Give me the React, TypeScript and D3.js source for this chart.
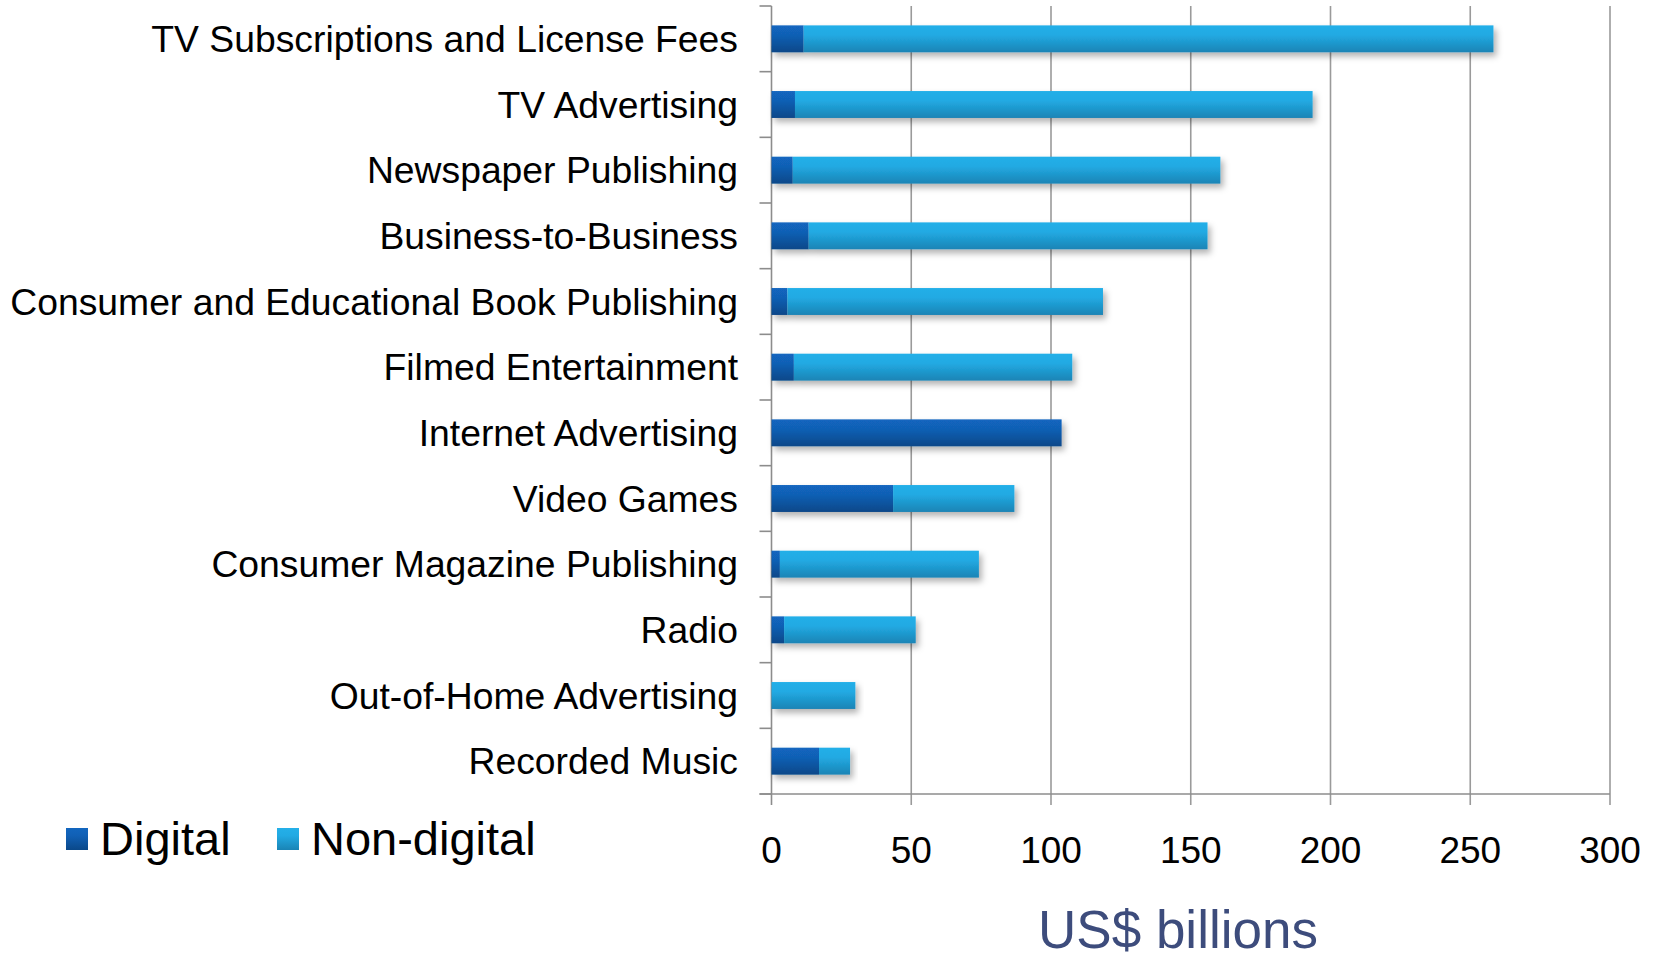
import React, { useRef, useEffect } from "react";
import * as d3 from "d3";

const categories = [
  "TV Subscriptions and License Fees",
  "TV Advertising",
  "Newspaper Publishing",
  "Business-to-Business",
  "Consumer and Educational Book Publishing",
  "Filmed Entertainment",
  "Internet Advertising",
  "Video Games",
  "Consumer Magazine Publishing",
  "Radio",
  "Out-of-Home Advertising",
  "Recorded Music",
];
const digital = [11.5, 8.4, 7.6, 13.3, 5.7, 8, 103.8, 43.5, 3, 4.5, 0, 17];
const nonDigital = [246.8, 185.2, 153, 142.7, 112.9, 99.6, 0, 43.4, 71.2, 47.1, 30, 11.1];
const xTicks = [0, 50, 100, 150, 200, 250, 300];
const seriesNames = ["Digital", "Non-digital"];

const FONT = "'Liberation Sans', Arial, sans-serif";

const App: React.FC = () => {
  const ref = useRef<SVGSVGElement | null>(null);

  useEffect(() => {
    if (!ref.current) return;
    const svg = d3.select(ref.current);
    svg.selectAll("*").remove();

    const width = 1661;
    const height = 960;
    const left = 771.5;
    const right = 1610;
    const top = 6;
    const bottom = 794;

    const defs = svg.append("defs");
    const grad = (id: string, c0: string, c1: string, c2: string) => {
      const g = defs
        .append("linearGradient")
        .attr("id", id)
        .attr("x1", 0)
        .attr("y1", 0)
        .attr("x2", 0)
        .attr("y2", 1);
      g.append("stop").attr("offset", "0%").attr("stop-color", c0);
      g.append("stop").attr("offset", "35%").attr("stop-color", c1);
      g.append("stop").attr("offset", "100%").attr("stop-color", c2);
    };
    grad("gDig", "#1266bf", "#1160b5", "#0a4889");
    grad("gNon", "#24afe8", "#22aae3", "#1a84b5");
    const f = defs
      .append("filter")
      .attr("id", "shadow")
      .attr("x", "-5%")
      .attr("y", "-30%")
      .attr("width", "115%")
      .attr("height", "180%");
    f.append("feDropShadow")
      .attr("dx", 3)
      .attr("dy", 4)
      .attr("stdDeviation", 3)
      .attr("flood-color", "#000")
      .attr("flood-opacity", 0.3);

    const x = d3.scaleLinear().domain([0, 300]).range([left, right]);
    const y = d3
      .scaleBand()
      .domain(categories)
      .range([top, bottom])
      .paddingInner(0.59)
      .paddingOuter(0.295);
    const step = y.step();

    // gridlines
    svg
      .append("g")
      .selectAll("line")
      .data(xTicks.slice(1))
      .enter()
      .append("line")
      .attr("x1", (d) => x(d))
      .attr("x2", (d) => x(d))
      .attr("y1", top)
      .attr("y2", bottom + 11)
      .attr("stroke", "#9a9a9a")
      .attr("stroke-width", 1.6);

    // y axis line and ticks
    svg
      .append("line")
      .attr("x1", left)
      .attr("x2", left)
      .attr("y1", top)
      .attr("y2", bottom + 11)
      .attr("stroke", "#8c8c8c")
      .attr("stroke-width", 1.6);
    svg
      .append("g")
      .selectAll("line")
      .data(d3.range(categories.length + 1))
      .enter()
      .append("line")
      .attr("x1", left - 12)
      .attr("x2", left)
      .attr("y1", (i) => top + i * step)
      .attr("y2", (i) => top + i * step)
      .attr("stroke", "#8c8c8c")
      .attr("stroke-width", 1.6);

    // x axis line
    svg
      .append("line")
      .attr("x1", left - 12)
      .attr("x2", right)
      .attr("y1", bottom)
      .attr("y2", bottom)
      .attr("stroke", "#8c8c8c")
      .attr("stroke-width", 1.6);

    // bars
    const rows = categories.map((c, i) => ({ c, d: digital[i], n: nonDigital[i] }));
    const g = svg.append("g");
    rows.forEach((r) => {
      const row = g.append("g").attr("filter", "url(#shadow)");
      if (r.d > 0)
        row
          .append("rect")
          .attr("x", x(0))
          .attr("y", y(r.c)!)
          .attr("width", x(r.d) - x(0))
          .attr("height", y.bandwidth())
          .attr("fill", "url(#gDig)");
      if (r.n > 0)
        row
          .append("rect")
          .attr("x", x(r.d))
          .attr("y", y(r.c)!)
          .attr("width", x(r.d + r.n) - x(r.d))
          .attr("height", y.bandwidth())
          .attr("fill", "url(#gNon)");
    });

    // category labels
    svg
      .append("g")
      .selectAll("text")
      .data(categories)
      .enter()
      .append("text")
      .attr("x", 738)
      .attr("y", (d) => y(d)! + y.bandwidth() / 2)
      .attr("dy", "0.35em")
      .attr("text-anchor", "end")
      .attr("font-family", FONT)
      .attr("font-size", 37.3)
      .attr("fill", "#000")
      .text((d) => d);

    // x tick labels
    svg
      .append("g")
      .selectAll("text")
      .data(xTicks)
      .enter()
      .append("text")
      .attr("x", (d) => x(d))
      .attr("y", 850)
      .attr("dy", "0.35em")
      .attr("text-anchor", "middle")
      .attr("font-family", FONT)
      .attr("font-size", 37)
      .attr("fill", "#000")
      .text((d) => d);

    svg
      .append("text")
      .attr("x", 1178)
      .attr("y", 929)
      .attr("dy", "0.35em")
      .attr("text-anchor", "middle")
      .attr("font-family", FONT)
      .attr("font-size", 53)
      .attr("fill", "#3d4c7c")
      .text("US$ billions");

    // legend
    const legX = [66, 277];
    const leg = svg.append("g");
    seriesNames.forEach((s, i) => {
      leg
        .append("rect")
        .attr("x", legX[i])
        .attr("y", 828)
        .attr("width", 22)
        .attr("height", 22)
        .attr("fill", i === 0 ? "url(#gDig)" : "url(#gNon)");
      leg
        .append("text")
        .attr("x", legX[i] + 34)
        .attr("y", 839)
        .attr("dy", "0.35em")
        .attr("font-family", FONT)
        .attr("font-size", 47)
        .attr("fill", "#000")
        .text(s);
    });

    svg.attr("width", width).attr("height", height);
  }, []);

  return (
    <div style={{ position: "absolute", left: 0, top: 0 }}>
      <svg ref={ref} style={{ display: "block" }} />
    </div>
  );
};

export default App;
